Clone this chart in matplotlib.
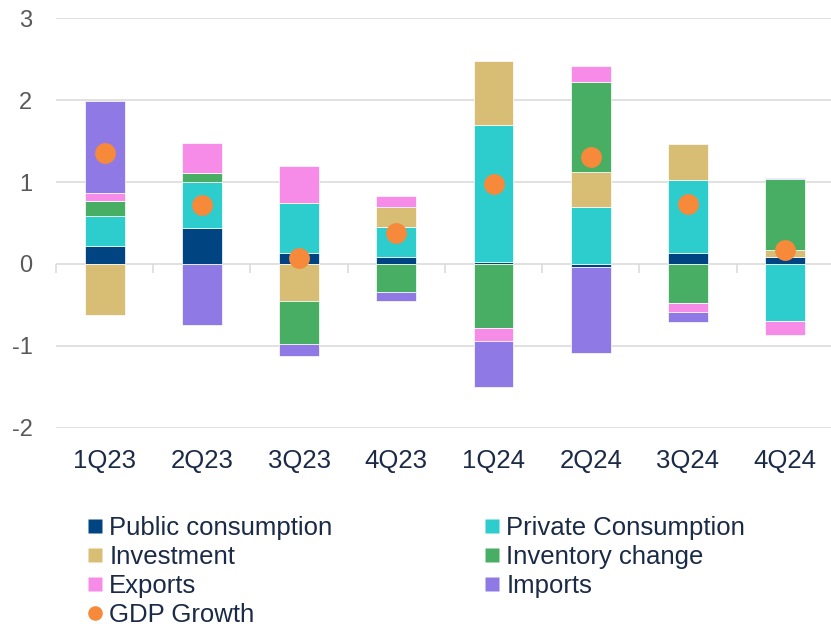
import matplotlib
matplotlib.use('Agg')
import matplotlib.pyplot as plt
from matplotlib.lines import Line2D
from matplotlib.markers import TICKDOWN
import numpy as np

plt.rcParams['font.family'] = ['Liberation Sans', 'DejaVu Sans']

# data (pp contribution to GDP growth)
quarters = ['1Q23', '2Q23', '3Q23', '4Q23', '1Q24', '2Q24', '3Q24', '4Q24']
public = [0.22, 0.44, 0.14, 0.08, 0.02, -0.04, 0.13, 0.09]
private = [0.36, 0.56, 0.60, 0.37, 1.67, 0.70, 0.90, -0.69]
investment = [-0.62, 0.00, -0.45, 0.24, 0.78, 0.42, 0.43, 0.08]
inventory = [0.19, 0.11, -0.52, -0.34, -0.78, 1.10, -0.48, 0.87]
exports = [0.09, 0.36, 0.45, 0.14, -0.16, 0.19, -0.11, -0.18]
imports = [1.13, -0.75, -0.15, -0.11, -0.56, -1.05, -0.12, 0.01]
gdp = [1.35, 0.72, 0.07, 0.38, 0.98, 1.30, 0.73, 0.17]

series = [
    ('Public consumption', public, '#004481'),
    ('Private Consumption', private, '#2DCCCD'),
    ('Investment', investment, '#D8BE75'),
    ('Inventory change', inventory, '#48AE64'),
    ('Exports', exports, '#F78BE8'),
    ('Imports', imports, '#8F7AE5'),
]
gdp_color = '#F7893B'
text_col = '#1B2A47'
grid_col = '#D9D9D9'

fig = plt.figure(figsize=(8.31, 6.32), dpi=100)
ax = fig.add_axes([0.0674, 0.3228, 0.936, 0.6487])

x = np.arange(len(quarters))
pos_bottom = np.zeros(len(quarters))
neg_bottom = np.zeros(len(quarters))
for name, vals, col in series:
    v = np.array(vals)
    bottom = np.where(v >= 0, pos_bottom, neg_bottom)
    ax.bar(x, v, width=0.41, bottom=bottom, color=col, edgecolor='white', linewidth=0.5, zorder=2)
    pos_bottom = pos_bottom + np.where(v >= 0, v, 0)
    neg_bottom = neg_bottom + np.where(v < 0, v, 0)

ax.plot(x, gdp, 'o', color=gdp_color, ms=15, mec='none', zorder=4)

ax.set_xlim(-0.5, len(quarters) - 0.5)
ax.set_ylim(-2, 3)
ax.set_yticks([-2, -1, 0, 1, 2, 3])
ax.set_yticklabels(['-2', '-1', '0', '1', '2', '3'])
ax.yaxis.grid(True, color=grid_col, linewidth=1.1, zorder=0)
ax.set_axisbelow(True)
for s in ax.spines.values():
    s.set_visible(False)
ax.tick_params(axis='y', length=0, pad=17, labelsize=17, labelcolor='#595959')
ax.set_xticks(x)
ax.set_xticklabels(quarters)
ax.tick_params(axis='x', length=0, pad=15, labelsize=18.5, labelcolor=text_col)

# small tick marks on the zero line between categories
bounds = np.arange(len(quarters)) - 0.5
ax.plot(bounds, np.zeros(len(bounds)), ls='none', marker=TICKDOWN, ms=6.5,
        mew=1.1, color=grid_col, zorder=1, clip_on=False)

handles = {}
for name, vals, col in series:
    handles[name] = Line2D([], [], ls='none', marker='s', ms=9.5, color=col, mec='none')
handles['GDP Growth'] = Line2D([], [], ls='none', marker='o', ms=10.5, color=gdp_color, mec='none')
order = ['Public consumption', 'Investment', 'Exports', 'GDP Growth',
         'Private Consumption', 'Inventory change', 'Imports']
leg = fig.legend([handles[k] for k in order], order, ncol=2, loc='upper left',
                 bbox_to_anchor=(0.1045, 0.184), frameon=False, fontsize=18.5,
                 handlelength=0.6, handletextpad=0.27, labelspacing=0.2,
                 columnspacing=5.9, borderpad=0, borderaxespad=0)
for t in leg.get_texts():
    t.set_color(text_col)

plt.savefig('out.png', dpi=100)
